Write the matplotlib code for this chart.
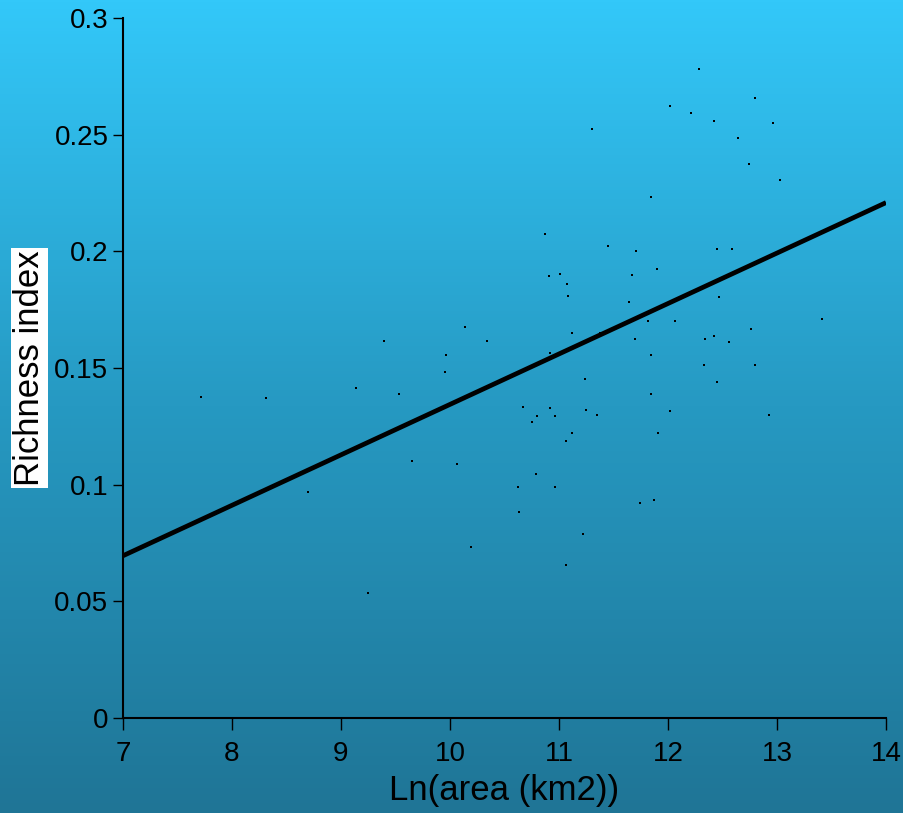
import numpy as np
import matplotlib
matplotlib.use("Agg")
import matplotlib.pyplot as plt
from matplotlib.colors import LinearSegmentedColormap

plt.rcParams["font.family"] = ["Liberation Sans", "DejaVu Sans"]

# Ln(area) vs richness index
ln_area = [
    7.72, 8.31, 8.70, 9.14, 9.25, 9.39, 9.53, 9.65, 9.96, 9.95,
    10.06, 10.14, 10.19, 10.34, 10.62, 10.63, 10.67, 10.75, 10.80, 10.79,
    10.87, 10.91, 10.92, 10.92, 10.96, 10.96, 11.01, 11.07, 11.08, 11.06,
    11.12, 11.12, 11.06, 11.22, 11.24, 11.25, 11.30, 11.35, 11.38, 11.45,
    11.64, 11.67, 11.70, 11.71, 11.74, 11.82, 11.84, 11.84, 11.84, 11.87,
    11.90, 11.91, 12.02, 12.02, 12.06, 12.21, 12.28, 12.34, 12.33, 12.42,
    12.42, 12.45, 12.45, 12.47, 12.56, 12.59, 12.64, 12.74, 12.76, 12.80,
    12.80, 12.93, 12.96, 13.03, 13.41,
]
richness = [
    0.1374, 0.1370, 0.0969, 0.1413, 0.0534, 0.1614, 0.1390, 0.1103, 0.1556, 0.1483,
    0.1087, 0.1674, 0.0733, 0.1616, 0.0990, 0.0884, 0.1333, 0.1269, 0.1296, 0.1044,
    0.2073, 0.1896, 0.1566, 0.1327, 0.1296, 0.0990, 0.1903, 0.1859, 0.1810, 0.1186,
    0.1220, 0.1650, 0.0654, 0.0790, 0.1452, 0.1319, 0.2526, 0.1297, 0.1649, 0.2024,
    0.1784, 0.1897, 0.1623, 0.2003, 0.0920, 0.1703, 0.1554, 0.1389, 0.2234, 0.0933,
    0.1923, 0.1220, 0.2622, 0.1314, 0.1703, 0.2592, 0.2781, 0.1626, 0.1511, 0.2560,
    0.1636, 0.2011, 0.1440, 0.1804, 0.1611, 0.2009, 0.2484, 0.2374, 0.1669, 0.2656,
    0.1511, 0.1300, 0.2550, 0.2304, 0.1709,
]

# regression line (intercept, slope) as drawn in the reference
fit_intercept = -0.0818
fit_slope = 0.02162

x_ticks = [7, 8, 9, 10, 11, 12, 13, 14]
y_ticks = [0, 0.05, 0.1, 0.15, 0.2, 0.25, 0.3]
y_ticklabels = ["0", "0.05", "0.1", "0.15", "0.2", "0.25", "0.3"]

fig = plt.figure(figsize=(9.04, 8.13), dpi=100)

# blue vertical gradient background
bg = fig.add_axes([0, 0, 1, 1], zorder=-10)
cmap = LinearSegmentedColormap.from_list("bg", ["#1f7596", "#2699c2", "#33c8f9"])
bg.imshow(np.linspace(0, 1, 256).reshape(-1, 1), aspect="auto", cmap=cmap,
          origin="lower", extent=[0, 1, 0, 1])
bg.axis("off")

ax = fig.add_axes([123 / 904, 95 / 813, 763 / 904, 700 / 813])
ax.patch.set_alpha(0)

ax.scatter(ln_area, richness, s=4, marker="s", color="black", linewidths=0, zorder=3)

xs = np.array([7, 14])
ax.plot(xs, fit_intercept + fit_slope * xs, color="black", lw=3.4, zorder=2,
        solid_capstyle="butt")

ax.set_xlim(7, 14)
ax.set_ylim(0, 0.3)
ax.set_xticks(x_ticks)
ax.set_xticklabels([str(t) for t in x_ticks])
ax.set_yticks(y_ticks)
ax.set_yticklabels(y_ticklabels)

for side in ["top", "right"]:
    ax.spines[side].set_visible(False)
for side in ["left", "bottom"]:
    ax.spines[side].set_linewidth(1.5)
    ax.spines[side].set_color("black")

ax.tick_params(axis="both", direction="out", width=1.0, labelsize=20, colors="black")
ax.tick_params(axis="x", length=8.5, pad=8)
ax.tick_params(axis="y", length=7, pad=3.5)

ax.set_xlabel("Ln(area (km2))", fontsize=25, labelpad=5)
ax.set_ylabel("Richness index", fontsize=25, labelpad=6,
              bbox=dict(facecolor="white", edgecolor="none", pad=1.5))

fig.savefig("out.png", dpi=100)
plt.close(fig)
